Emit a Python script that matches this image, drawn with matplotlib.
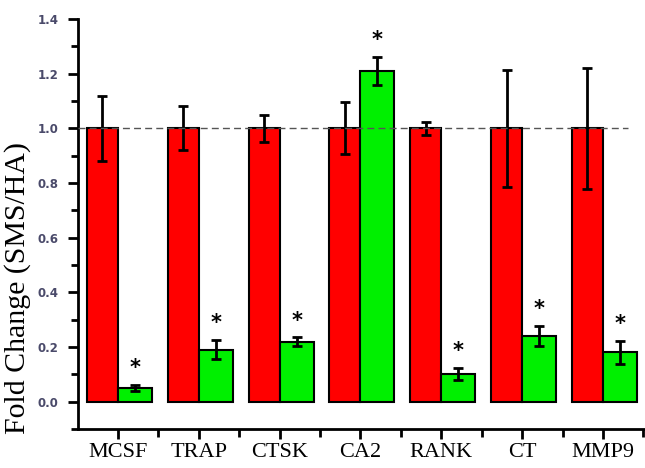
import matplotlib
matplotlib.use("Agg")
import matplotlib.pyplot as plt
import numpy as np

categories = ["MCSF", "TRAP", "CTSK", "CA2", "RANK", "CT", "MMP9"]
ha_values = [1.0, 1.0, 1.0, 1.0, 1.0, 1.0, 1.0]
ha_errors = [0.12, 0.08, 0.05, 0.095, 0.023, 0.215, 0.222]
sms_values = [0.05, 0.19, 0.22, 1.21, 0.10, 0.24, 0.18]
sms_errors = [0.01, 0.035, 0.015, 0.05, 0.022, 0.037, 0.042]
significant = [True, True, True, True, True, True, True]
yticks = [0.0, 0.2, 0.4, 0.6, 0.8, 1.0, 1.2, 1.4]
ylabel = "Fold Change (SMS/HA)"

fig = plt.figure(figsize=(6.45, 4.68), dpi=100)
ax = fig.add_axes([78/645, 39/468, (645-78)/645, (429-19)/468])

x = np.arange(len(categories))
red_w = 0.385
green_w = 0.42
ax.bar(x - red_w/2, ha_values, width=red_w, color="#ff0000", edgecolor="black",
       linewidth=1.5, zorder=2)
ax.bar(x + green_w/2, sms_values, width=green_w, color="#00f000", edgecolor="black",
       linewidth=1.5, zorder=2)
ax.errorbar(x - red_w/2, ha_values, yerr=ha_errors, fmt="none", ecolor="black",
            elinewidth=2, capsize=3.5, capthick=2, zorder=3)
ax.errorbar(x + green_w/2, sms_values, yerr=sms_errors, fmt="none", ecolor="black",
            elinewidth=2, capsize=3.5, capthick=2, zorder=3)

for xi, v, e, s in zip(x, sms_values, sms_errors, significant):
    if s:
        ax.text(xi + green_w/2, v + e + 0.025, "*", ha="center", va="bottom",
                fontsize=15, fontweight="bold", color="black", zorder=4)

ax.plot([-0.495, 6.31], [1.0, 1.0], linestyle=(0, (5, 3)), color="#555555",
        linewidth=1.0, zorder=4)

ax.set_xlim(-0.495, 6.52)
ax.set_ylim(-0.1, 1.4)
ax.set_yticks(yticks)
ax.set_yticklabels([f"{t:.1f}" for t in yticks], fontsize=8.5, fontweight="bold",
                   color="#4a4a6a")
ax.set_yticks(np.arange(-0.1, 1.35, 0.2) + 0.0, minor=True)
ax.set_xticks(x)
ax.set_xticklabels(categories, fontsize=16, family="Liberation Serif")
ax.set_xticks(x + 0.5, minor=True)
ax.tick_params(axis="y", which="major", direction="out", length=7, width=2, pad=7)
ax.tick_params(axis="y", which="minor", direction="out", length=5, width=2)
ax.tick_params(axis="x", which="major", direction="out", length=7, width=2, pad=3)
ax.tick_params(axis="x", which="minor", direction="out", length=6, width=2)

for side in ["top", "right"]:
    ax.spines[side].set_visible(False)
for side in ["left", "bottom"]:
    ax.spines[side].set_linewidth(2)

fig.text(18/645, 1 - 288/468, ylabel, rotation=90, ha="center", va="center",
         fontsize=21.5, family="Liberation Serif")

fig.savefig("out.png", dpi=100)
